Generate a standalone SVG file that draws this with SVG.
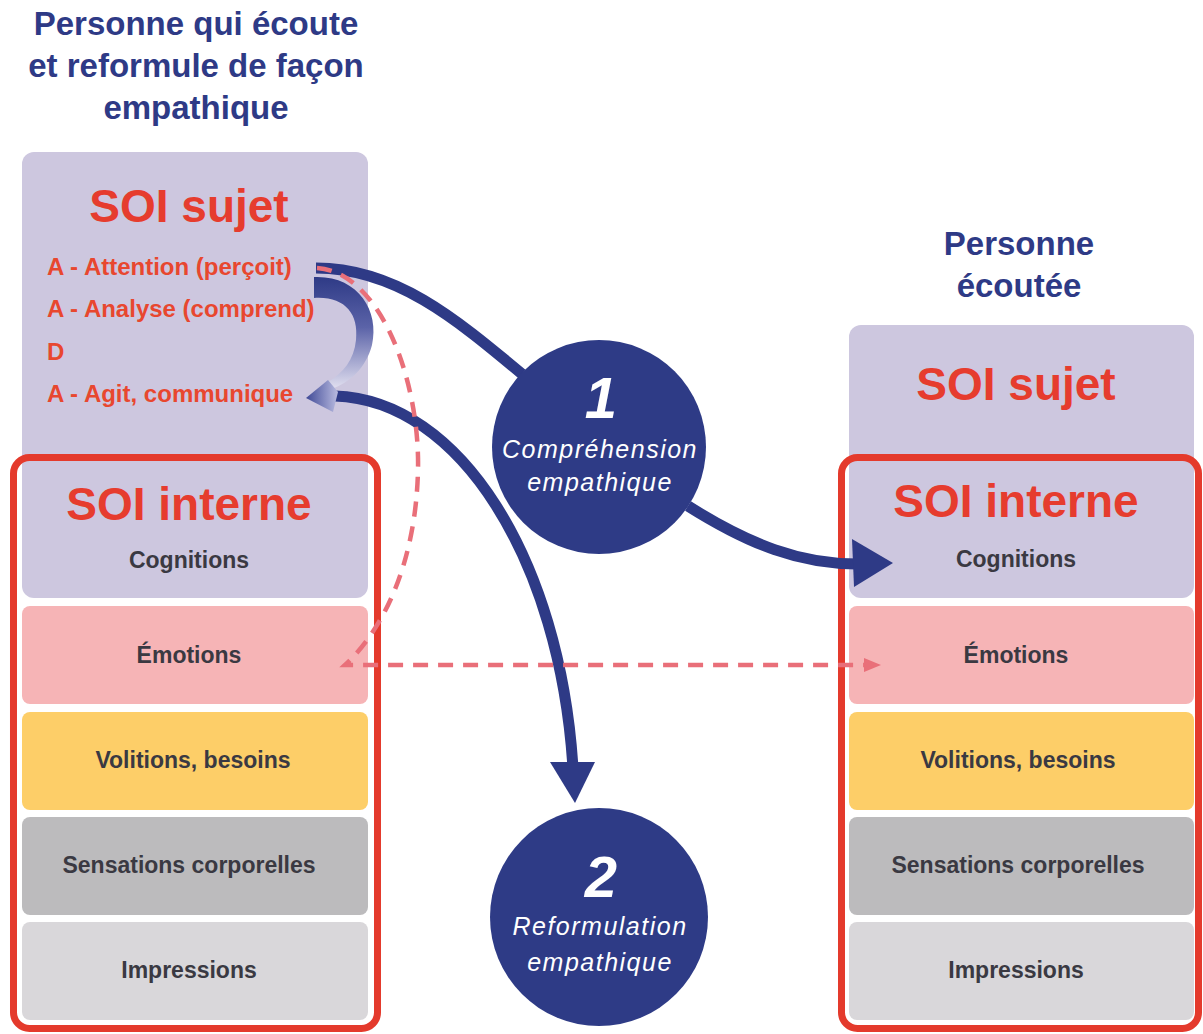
<svg xmlns="http://www.w3.org/2000/svg" width="1203" height="1034" viewBox="0 0 1203 1034">
<defs>
<style>
.title{font-family:"Liberation Sans",Arial,sans-serif;font-weight:bold;font-size:33px;fill:#2e3a86;text-anchor:middle}
.soi{font-family:"Liberation Sans",Arial,sans-serif;font-weight:bold;font-size:46px;fill:#e63c2e;text-anchor:middle}
.aline{font-family:"Liberation Sans",Arial,sans-serif;font-weight:bold;font-size:24px;fill:#e8472f}
.lbl{font-family:"Liberation Sans",Arial,sans-serif;font-weight:bold;font-size:23px;fill:#3a3942;text-anchor:middle}
.ctext{font-family:"Liberation Sans",Arial,sans-serif;font-style:italic;font-size:25px;fill:#ffffff;text-anchor:middle;letter-spacing:1.5px}
.num{font-family:"Liberation Sans",Arial,sans-serif;font-style:italic;font-weight:bold;font-size:58px;fill:#ffffff;text-anchor:middle}
.lav{fill:#cdc7df}
.emo{fill:#f6b4b6}
.vol{fill:#fdce68}
.sen{fill:#bcbbbd}
.imp{fill:#d9d7da}
.frame{fill:none;stroke:#e43a2c;stroke-width:7}
.navy{fill:none;stroke:#2e3a86;stroke-width:11}
.dash{fill:none;stroke:#e96f79;stroke-width:4.5;stroke-dasharray:15 10}
.circ{fill:#2e3b86}
</style>
<linearGradient id="crescent" x1="0" y1="0" x2="0" y2="1">
<stop offset="0" stop-color="#2e3a86"/>
<stop offset="0.45" stop-color="#5b63a8"/>
<stop offset="1" stop-color="#e2e0f0"/>
</linearGradient>
<linearGradient id="headgrad" x1="1" y1="0" x2="0" y2="0">
<stop offset="0" stop-color="#b9bbe0"/>
<stop offset="1" stop-color="#3f4996"/>
</linearGradient>
</defs>

<g id="left-title">
<text class="title" x="196" y="35">Personne qui écoute</text>
<text class="title" x="196" y="77">et reformule de façon</text>
<text class="title" x="196" y="119">empathique</text>
</g>

<g id="right-title">
<text class="title" x="1019" y="255">Personne</text>
<text class="title" x="1019" y="297">écoutée</text>
</g>

<g id="left-column">
<rect class="lav" x="22" y="152" width="346" height="446" rx="12"/>
<text class="soi" x="189" y="222">SOI sujet</text>
<text class="aline" x="47" y="275">A - Attention (perçoit)</text>
<text class="aline" x="47" y="317">A - Analyse (comprend)</text>
<text class="aline" x="47" y="360">D</text>
<text class="aline" x="47" y="402">A - Agit, communique</text>
<text class="soi" x="189" y="520">SOI interne</text>
<text class="lbl" x="189" y="568">Cognitions</text>
<rect class="emo" x="22" y="606" width="346" height="98" rx="8"/>
<text class="lbl" x="189" y="663">Émotions</text>
<rect class="vol" x="22" y="712" width="346" height="98" rx="8"/>
<text class="lbl" x="193" y="768">Volitions, besoins</text>
<rect class="sen" x="22" y="817" width="346" height="98" rx="8"/>
<text class="lbl" x="189" y="873">Sensations corporelles</text>
<rect class="imp" x="22" y="922" width="346" height="98" rx="8"/>
<text class="lbl" x="189" y="978">Impressions</text>
<rect class="frame" x="13.5" y="457.5" width="364" height="571" rx="16"/>
</g>

<g id="right-column">
<rect class="lav" x="849" y="325" width="345" height="273" rx="12"/>
<text class="soi" x="1016" y="400">SOI sujet</text>
<text class="soi" x="1016" y="517">SOI interne</text>
<text class="lbl" x="1016" y="567">Cognitions</text>
<rect class="emo" x="849" y="606" width="345" height="98" rx="8"/>
<text class="lbl" x="1016" y="663">Émotions</text>
<rect class="vol" x="849" y="712" width="345" height="98" rx="8"/>
<text class="lbl" x="1018" y="768">Volitions, besoins</text>
<rect class="sen" x="849" y="817" width="345" height="98" rx="8"/>
<text class="lbl" x="1018" y="873">Sensations corporelles</text>
<rect class="imp" x="849" y="922" width="345" height="98" rx="8"/>
<text class="lbl" x="1016" y="978">Impressions</text>
<rect class="frame" x="841.5" y="457.5" width="357" height="571" rx="16"/>
</g>

<g id="connectors">
<path class="navy" d="M316,268 C395,268 455,318 522,374"/>
<path class="navy" d="M688,506 C750,545 800,564 858,564"/>
<polygon fill="#2e3a86" points="852,539 893,563 854,587"/>
<path class="navy" d="M335,396 C460,400 560,560 573,768"/>
<polygon fill="#2e3a86" points="550,762 595,762 575,803"/>
<path fill="url(#crescent)" d="M314,277 C357,275 380,310 372,345 C366,368 350,382 332,389 L328,382 C343,373 354,360 356,340 C359,313 344,296 314,298 Z"/>
<polygon fill="url(#headgrad)" points="306,398 328,380 338,392 333,412"/>
<path class="dash" d="M317,268 C380,272 420,380 418,470 C416,560 385,628 345,665 L866,665"/>
<polygon fill="#e96f79" points="864,658 881,665 864,672"/>
</g>

<g id="circle-1">
<circle class="circ" cx="599" cy="447" r="107"/>
<text class="num" x="601" y="418">1</text>
<text class="ctext" x="600" y="458">Compréhension</text>
<text class="ctext" x="600" y="491">empathique</text>
</g>

<g id="circle-2">
<circle class="circ" cx="599" cy="917" r="109"/>
<text class="num" x="601" y="897">2</text>
<text class="ctext" x="600" y="935">Reformulation</text>
<text class="ctext" x="600" y="971">empathique</text>
</g>
</svg>
